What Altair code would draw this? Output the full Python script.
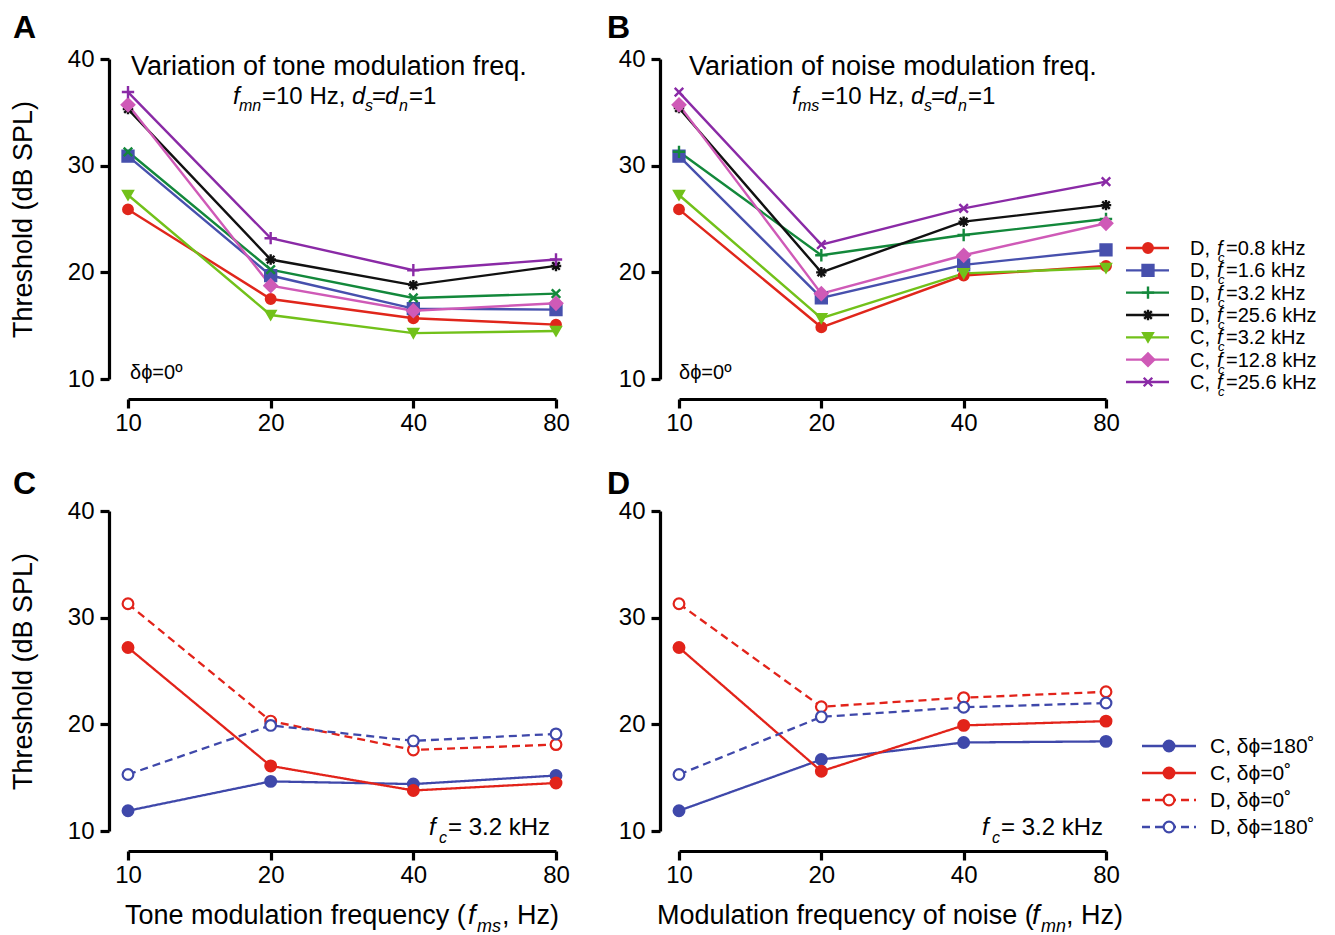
import altair as alt
import pandas as pd

FONT = "Liberation Sans"

# ---------------- data ----------------
FREQ = [10, 20, 40, 80]
Y_TICKS = [10, 20, 30, 40]

AB_SERIES = ["D 0.8", "D 1.6", "D 3.2", "D 25.6", "C 3.2", "C 12.8", "C 25.6"]
AB_MODE = ["D,", "D,", "D,", "D,", "C,", "C,", "C,"]
AB_FC = ["=0.8 kHz", "=1.6 kHz", "=3.2 kHz", "=25.6 kHz", "=3.2 kHz", "=12.8 kHz", "=25.6 kHz"]
AB_COLORS = ["#e0261b", "#4750ad", "#13883b", "#111111", "#72c11a", "#cf5ab7", "#8a2aa6"]

A_VALUES = [
    [25.9, 17.5, 15.7, 15.1],
    [30.9, 19.7, 16.6, 16.5],
    [31.3, 20.25, 17.6, 18.0],
    [35.3, 21.2, 18.8, 20.6],
    [27.25, 16.0, 14.3, 14.5],
    [35.7, 18.75, 16.4, 17.1],
    [36.9, 23.2, 20.2, 21.2],
]
B_VALUES = [
    [25.9, 14.85, 19.7, 20.6],
    [30.9, 17.6, 20.7, 22.1],
    [31.3, 21.6, 23.5, 25.0],
    [35.4, 20.0, 24.75, 26.3],
    [27.25, 15.7, 19.9, 20.4],
    [35.7, 18.0, 21.6, 24.6],
    [36.9, 22.6, 26.0, 28.5],
]

CD_SERIES = ["C, δϕ=180˚", "C, δϕ=0˚", "D, δϕ=0˚", "D, δϕ=180˚"]
CD_COLORS = ["#3f48aa", "#e2231a", "#e2231a", "#3f48aa"]
CD_FILLS = ["#3f48aa", "#e2231a", "#ffffff", "#ffffff"]
CD_DASH = [[1, 0], [1, 0], [8, 5], [8, 5]]
C_VALUES = [
    [11.9, 14.65, 14.4, 15.2],
    [27.2, 16.1, 13.8, 14.5],
    [31.3, 20.3, 17.6, 18.1],
    [15.3, 19.9, 18.45, 19.1],
]
D_VALUES = [
    [11.9, 16.7, 18.3, 18.4],
    [27.2, 15.6, 19.9, 20.3],
    [31.3, 21.65, 22.5, 23.05],
    [15.3, 20.7, 21.6, 22.0],
]

# marker shapes (unit-square SVG paths for open glyphs)
PLUS = "M-1.3,0H1.3M0,-1.3V1.3"
XCROSS = "M-0.9,-0.9L0.9,0.9M-0.9,0.9L0.9,-0.9"
STAR = "M-1.1,0H1.1M0,-1.1V1.1M-0.8,-0.8L0.8,0.8M-0.8,0.8L0.8,-0.8"
SQUARE = "M-1.15,-1.15H1.15V1.15H-1.15Z"
DIAMOND = "M-1.3,0L0,-1.3L1.3,0L0,1.3Z"
SHAPES_A = ["circle", SQUARE, XCROSS, STAR, "triangle-down", DIAMOND, PLUS]
SHAPES_B = ["circle", SQUARE, PLUS, STAR, "triangle-down", DIAMOND, XCROSS]


def long_df(names, values, field):
    rows = []
    for n, vals in zip(names, values):
        for f, v in zip(FREQ, vals):
            rows.append({"freq": f, "thr": v, field: n})
    return pd.DataFrame(rows)


ONE = pd.DataFrame({"k": [0]})


def txt(s, x, y, size, italic=False, bold=False, align="left", baseline="alphabetic"):
    kw = dict(text=s, fontSize=size, font=FONT, color="black", align=align, baseline=baseline)
    if italic:
        kw["fontStyle"] = "italic"
    if bold:
        kw["fontWeight"] = "bold"
    return alt.Chart(ONE).mark_text(**kw).encode(x=alt.value(x), y=alt.value(y))


XS = alt.Scale(type="log", domain=[10, 80], nice=False)
YS = alt.Scale(domain=[10, 40], nice=False)


def xaxis():
    return alt.Axis(values=FREQ, format="d", offset=20, tickSize=9, tickWidth=3.2,
                    domainWidth=3.2, domainColor="black", tickColor="black",
                    labelFontSize=24, labelColor="black", labelFont=FONT, labelPadding=3,
                    grid=False, title=None, labelFlush=False)


def yaxis(with_title):
    kw = dict(values=Y_TICKS, offset=19, tickSize=9, tickWidth=3.2, domainWidth=3.2,
              domainColor="black", tickColor="black", labelFontSize=24, labelColor="black",
              labelFont=FONT, labelPadding=6, grid=False, orient="left")
    if with_title:
        kw.update(title="Threshold (dB SPL)", titleFontSize=27, titleFont=FONT,
                  titleFontWeight="normal", titleColor="black", titlePadding=30)
    else:
        kw.update(title=None)
    return alt.Axis(**kw)


def ab_panel(values, field, shapes, with_title):
    df = long_df(AB_SERIES, values, field)
    col = alt.Scale(domain=AB_SERIES, range=AB_COLORS)
    lines = alt.Chart(df).mark_line(strokeWidth=2.4).encode(
        x=alt.X("freq:Q", scale=XS, axis=xaxis()),
        y=alt.Y("thr:Q", scale=YS, axis=yaxis(with_title)),
        color=alt.Color(f"{field}:N", scale=col, legend=None),
    )
    pts = alt.Chart(df).mark_point(filled=True, size=90, strokeWidth=2.4, opacity=1).encode(
        x=alt.X("freq:Q", scale=XS, axis=xaxis()),
        y=alt.Y("thr:Q", scale=YS, axis=None),
        fill=alt.Fill(f"{field}:N", scale=col, legend=None),
        stroke=alt.Stroke(f"{field}:N", scale=col, legend=None),
        shape=alt.Shape(f"{field}:N", scale=alt.Scale(domain=AB_SERIES, range=shapes), legend=None),
    )
    return lines, pts, col


def cd_panel(values, field, with_title):
    df = long_df(CD_SERIES, values, field)
    col = alt.Scale(domain=CD_SERIES, range=CD_COLORS)
    fil = alt.Scale(domain=CD_SERIES, range=CD_FILLS)
    dash = alt.Scale(domain=CD_SERIES, range=CD_DASH)
    sz = alt.Scale(domain=CD_SERIES, range=[115, 115, 75, 75])
    lines = alt.Chart(df).mark_line(strokeWidth=2.3).encode(
        x=alt.X("freq:Q", scale=XS, axis=xaxis()),
        y=alt.Y("thr:Q", scale=YS, axis=yaxis(with_title)),
        color=alt.Color(f"{field}:N", scale=col, legend=None),
        strokeDash=alt.StrokeDash(f"{field}:N", scale=dash, legend=None),
    )
    pts = alt.Chart(df).mark_point(filled=True, strokeWidth=2.2, opacity=1, shape="circle").encode(
        x=alt.X("freq:Q", scale=XS, axis=xaxis()),
        y=alt.Y("thr:Q", scale=YS, axis=None),
        fill=alt.Fill(f"{field}:N", scale=fil, legend=None),
        stroke=alt.Stroke(f"{field}:N", scale=col, legend=None),
        size=alt.Size(f"{field}:N", scale=sz, legend=None),
    )
    return lines, pts, col, fil, dash, sz


W1, W2, H = 428, 427, 320

# ---------------- panel A ----------------
la, pa, _ = ab_panel(A_VALUES, "sA", SHAPES_A, True)
texts_a = [
    txt("A", -115, -21, 32, bold=True),
    txt("Variation of tone modulation freq.", 3, 16, 27),
    txt("f", 105, 45, 24, italic=True), txt("mn", 111, 52, 16, italic=True),
    txt("=10 Hz,", 134, 45, 24),
    txt("d", 224, 45, 24, italic=True), txt("s", 237, 52, 16, italic=True),
    txt("=", 244, 45, 24),
    txt("d", 257, 45, 24, italic=True), txt("n", 271, 52, 16, italic=True),
    txt("=1", 281, 45, 24),
    txt("δϕ=0º", 2, 320, 20),
]
panel_a = alt.layer(la, pa, *texts_a).resolve_scale(y="independent").properties(width=W1, height=H)

# ---------------- panel B (with legend) ----------------
lb, pb, colb = ab_panel(B_VALUES, "sB", SHAPES_B, False)
leg_df = pd.DataFrame({"sB": AB_SERIES, "mode": AB_MODE, "fc": AB_FC})
ly = alt.Y("sB:N", scale=alt.Scale(type="point", domain=AB_SERIES, range=[189, 323], padding=0), axis=None)
leg_rule = alt.Chart(leg_df).mark_rule(strokeWidth=2.4).encode(
    x=alt.value(447), x2=alt.value(490), y=ly, color=alt.Color("sB:N", scale=colb, legend=None))
leg_pts = alt.Chart(leg_df).mark_point(filled=True, size=90, strokeWidth=2.4, opacity=1).encode(
    x=alt.value(469), y=ly,
    fill=alt.Fill("sB:N", scale=colb, legend=None),
    stroke=alt.Stroke("sB:N", scale=colb, legend=None),
    shape=alt.Shape("sB:N", scale=alt.Scale(domain=AB_SERIES, range=SHAPES_B), legend=None))
leg_t1 = alt.Chart(leg_df).mark_text(font=FONT, fontSize=20, align="left", baseline="alphabetic", dy=7, color="black").encode(
    x=alt.value(511), y=ly, text="mode:N")
leg_t2 = alt.Chart(leg_df).mark_text(text="f", font=FONT, fontSize=20, fontStyle="italic", align="left", baseline="alphabetic", dy=7, color="black").encode(
    x=alt.value(538), y=ly)
leg_t3 = alt.Chart(leg_df).mark_text(text="c", font=FONT, fontSize=13, fontStyle="italic", align="left", baseline="alphabetic", dy=14, color="black").encode(
    x=alt.value(539), y=ly)
leg_t4 = alt.Chart(leg_df).mark_text(font=FONT, fontSize=20, align="left", baseline="alphabetic", dy=7, color="black").encode(
    x=alt.value(547), y=ly, text="fc:N")
texts_b = [
    txt("B", -72, -21, 32, bold=True),
    txt("Variation of noise modulation freq.", 10, 16, 27),
    txt("f", 113, 45, 24, italic=True), txt("ms", 119, 52, 16, italic=True),
    txt("=10 Hz,", 142, 45, 24),
    txt("d", 232, 45, 24, italic=True), txt("s", 245, 52, 16, italic=True),
    txt("=", 252, 45, 24),
    txt("d", 265, 45, 24, italic=True), txt("n", 279, 52, 16, italic=True),
    txt("=1", 289, 45, 24),
    txt("δϕ=0º", 0, 320, 20),
]
panel_b = alt.layer(lb, pb, leg_rule, leg_pts, leg_t1, leg_t2, leg_t3, leg_t4, *texts_b).resolve_scale(
    y="independent").properties(width=W2, height=H)

# ---------------- panel C ----------------
lc, pc, *_ = cd_panel(C_VALUES, "sC", True)
texts_c = [
    txt("C", -115, -17, 32, bold=True),
    txt("f", 301, 324, 24, italic=True), txt("c", 311, 332, 16, italic=True),
    txt("= 3.2 kHz", 320, 324, 24),
    txt("Tone modulation frequency (", -3, 413, 27),
    txt("f", 340, 413, 27, italic=True), txt("ms", 349, 421, 18, italic=True),
    txt(", Hz)", 374, 413, 27),
]
panel_c = alt.layer(lc, pc, *texts_c).resolve_scale(y="independent").properties(width=W1, height=H)

# ---------------- panel D (with legend) ----------------
ld, pd_, cold, fild, dashd, szd = cd_panel(D_VALUES, "sD", False)
leg2_df = pd.DataFrame({"sD": CD_SERIES})
ly2 = alt.Y("sD:N", scale=alt.Scale(type="point", domain=CD_SERIES, range=[235, 316], padding=0), axis=None)
leg2_rule = alt.Chart(leg2_df).mark_rule(strokeWidth=2.3).encode(
    x=alt.value(463), x2=alt.value(517), y=ly2,
    color=alt.Color("sD:N", scale=cold, legend=None),
    strokeDash=alt.StrokeDash("sD:N", scale=dashd, legend=None))
leg2_pts = alt.Chart(leg2_df).mark_point(filled=True, strokeWidth=2.2, opacity=1, shape="circle").encode(
    x=alt.value(490), y=ly2,
    fill=alt.Fill("sD:N", scale=fild, legend=None),
    stroke=alt.Stroke("sD:N", scale=cold, legend=None),
    size=alt.Size("sD:N", scale=alt.Scale(domain=CD_SERIES, range=[170, 170, 120, 120]), legend=None))
leg2_txt = alt.Chart(leg2_df).mark_text(font=FONT, fontSize=21, align="left", baseline="alphabetic", dy=7, color="black").encode(
    x=alt.value(531), y=ly2, text="sD:N")
texts_d = [
    txt("D", -72, -17, 32, bold=True),
    txt("f", 303, 324, 24, italic=True), txt("c", 313, 332, 16, italic=True),
    txt("= 3.2 kHz", 322, 324, 24),
    txt("Modulation frequency of noise (", -22, 413, 27),
    txt("f", 353, 413, 27, italic=True), txt("mn", 362, 421, 18, italic=True),
    txt(", Hz)", 387, 413, 27),
]
panel_d = alt.layer(ld, pd_, leg2_rule, leg2_pts, leg2_txt, *texts_d).resolve_scale(
    y="independent").properties(width=W2, height=H)

chart = alt.concat(
    panel_a, panel_b, panel_c, panel_d,
    columns=2, spacing={"row": 132, "column": 123}, bounds="flush",
).resolve_scale(
    color="independent", fill="independent", stroke="independent",
    shape="independent", strokeDash="independent", size="independent",
).properties(
    padding={"left": 9, "top": 12, "right": 5, "bottom": 5},
    background="white",
).configure_view(stroke=None)

chart.save("out.html", embed_options={"renderer": "svg", "actions": False})
